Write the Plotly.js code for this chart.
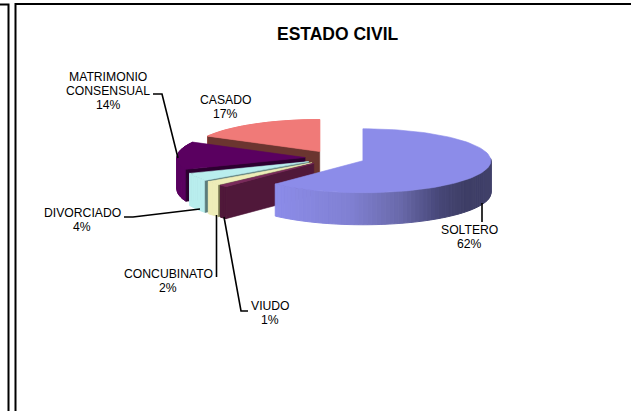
<!DOCTYPE html>
<html>
<head>
<meta charset="utf-8">
<script src="https://cdn.plot.ly/plotly-3.0.1.min.js"></script>
<style>html,body{margin:0;padding:0;background:#fff}#chart{width:631px;height:411px}</style>
</head>
<body>
<div id="chart"></div>
<script>
// Data, in the order the slices run clockwise from twelve o'clock
const categories = ["SOLTERO", "VIUDO", "CONCUBINATO", "DIVORCIADO", "MATRIMONIO CONSENSUAL", "CASADO"];
const labelLines = [["SOLTERO"], ["VIUDO"], ["CONCUBINATO"], ["DIVORCIADO"], ["MATRIMONIO", "CONSENSUAL"], ["CASADO"]];
const shares = [62, 1, 2, 4, 14, 17];
const topColors = ["#8c8ce9", "#7a2a5c", "#eeedb8", "#b9eeee", "#5a0060", "#f07a78"];
const wallColors = ["#8c8ce9", "#50183a", "#eeedb8", "#b9eeee", "#5a0060", "#f07a78"];
const cutColors = ["#8c8ce9", "#50183a", "#77774f", "#5a7c7a", "#2c0030", "#6b3530"];
const labelCenterX = [469, 270, 168, 82, 108, 225];
const labelTopY = [230, 306, 274, 213, 77, 100];

// Projection of the tilted, exploded pie in picture pixels
const pie = {cx: 335, cy: 158, rx: 128, ry: 32, depth: 32, explode: 30};
const titleText = "ESTADO CIVIL";
const leaderLines = [
  [[482, 203], [482, 222]],
  [[224, 217], [241, 311], [248, 311]],
  [[216.5, 277], [216.5, 215]],
  [[124, 217], [133, 217], [200, 209]],
  [[153, 94], [162, 94], [178, 158]],
];
const frameLines = [
  [[0, 4.5], [8.5, 4.5], [8.5, 411]],
  [[15.5, 411], [15.5, 4], [631, 4]],
];

const rad = d => d * Math.PI / 180;
let cum = 0;
const slices = shares.map((s, i) => {
  const a0 = cum * 3.6; cum += s; const a1 = cum * 3.6, mid = (a0 + a1) / 2;
  return {i, a0, a1,
    ox: pie.cx + pie.explode * Math.sin(rad(mid)),
    oy: pie.cy - pie.explode * Math.cos(rad(mid)) * pie.ry / pie.rx};
});
const rim = (s, a) => [s.ox + pie.rx * Math.sin(rad(a)), s.oy - pie.ry * Math.cos(rad(a))];
const poly = (pts, color, w) => ({
  type: "scatter", mode: "lines", x: pts.map(p => p[0]), y: pts.map(p => p[1]),
  fill: "toself", fillcolor: color, line: {color: color, width: w === undefined ? 0.6 : w},
  hoverinfo: "skip", showlegend: false
});
const arc = (s, a0, a1) => {
  const n = Math.max(2, Math.ceil(Math.abs(a1 - a0) / 2)), out = [];
  for (let k = 0; k <= n; k++) out.push(rim(s, a0 + (a1 - a0) * k / n));
  return out;
};
const down = p => [p[0], p[1] + pie.depth];

function solteroWall(x) {
  const stops = [[276, [140, 140, 233]], [350, [128, 128, 210]], [400, [105, 105, 170]], [440, [70, 70, 118]], [465, [62, 62, 102]], [492, [64, 64, 106]]];
  for (let k = 1; k < stops.length; k++) {
    if (x <= stops[k][0]) {
      const t = Math.max(0, (x - stops[k - 1][0]) / (stops[k][0] - stops[k - 1][0]));
      const c = stops[k - 1][1].map((v, j) => Math.round(v + (stops[k][1][j] - v) * t));
      return `rgb(${c.join(",")})`;
    }
  }
  return "rgb(64,64,106)";
}

const traces = [];
// Painter's order: back slices first, the big front slice last
[5, 4, 3, 2, 1, 0].forEach(idx => {
  const s = slices[idx];
  // outer wall, as a run of small quads so a fold at the pie's edge leaves no hole
  const step = 2;
  const start = idx === 0 ? 86 : s.a0;
  for (let a = start; a < s.a1; a += step) {
    const b = Math.min(a + step, s.a1), p = rim(s, a), q = rim(s, b);
    const col = idx === 0 ? solteroWall((p[0] + q[0]) / 2) : wallColors[idx];
    traces.push(poly([p, q, down(q), down(p), p], col, 1));
  }
  // cut face at the leading edge of the slice
  if (idx !== 0) {
    const p = rim(s, s.a0), o = [s.ox, s.oy];
    traces.push(poly([o, p, down(p), down(o), o], cutColors[idx]));
  }
  // top surface
  const o = [s.ox, s.oy];
  traces.push(poly([o].concat(arc(s, s.a0, s.a1), [o]), topColors[idx]));
});

const fontFamily = "Liberation Sans, Arial, sans-serif";
const annotations = [{
  x: 337.5, y: 34, xref: "x", yref: "y", text: "<b>" + titleText + "</b>", showarrow: false,
  font: {family: fontFamily, size: 17.5, color: "#000"}, xanchor: "center", yanchor: "middle"
}];
categories.forEach((c, i) => {
  labelLines[i].concat([shares[i] + "%"]).forEach((line, k) => {
    annotations.push({
      x: labelCenterX[i], y: labelTopY[i] + k * 14, xref: "x", yref: "y", text: line, showarrow: false,
      font: {family: fontFamily, size: 12.2, color: "#000"}, xanchor: "center", yanchor: "middle"
    });
  });
});

const pathOf = pts => "M" + pts.map(p => p.join(",")).join("L");
const shapes = leaderLines.map(l => ({type: "path", path: pathOf(l), xref: "x", yref: "y", line: {color: "#000", width: 1.6}}))
  .concat([{type: "path", path: pathOf(frameLines[0]), xref: "x", yref: "y", line: {color: "#000", width: 2}},
           {type: "path", path: pathOf(frameLines[1]), xref: "x", yref: "y", line: {color: "#000", width: 2}}]);

Plotly.newPlot("chart", traces, {
  width: 631, height: 411, margin: {l: 0, r: 0, t: 0, b: 0},
  paper_bgcolor: "#fff", plot_bgcolor: "#fff", showlegend: false,
  xaxis: {range: [0, 631], visible: false, fixedrange: true},
  yaxis: {range: [411, 0], visible: false, fixedrange: true},
  annotations, shapes
}, {displayModeBar: false, staticPlot: true});
</script>
</body>
</html>
